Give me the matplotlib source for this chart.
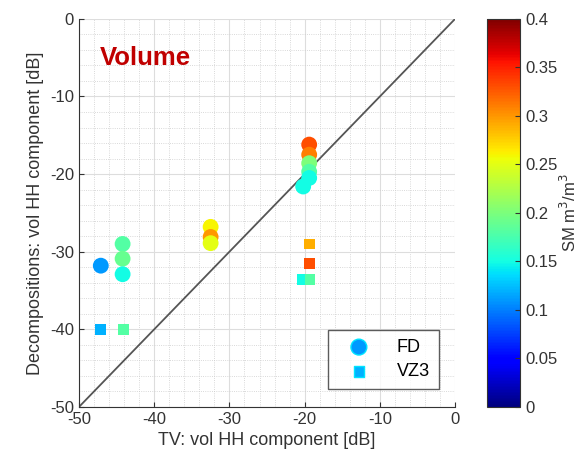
import numpy as np
import matplotlib
matplotlib.use('Agg')
import matplotlib.pyplot as plt
from matplotlib.ticker import MultipleLocator

plt.rcParams['font.family'] = ['Liberation Sans', 'DejaVu Sans']
plt.rcParams['axes.unicode_minus'] = False

# FD decomposition (circles)
fd_tv = [-47.1, -44.2, -44.2, -44.2, -32.5, -32.5, -32.5,
         -19.4, -19.4, -19.4, -19.4, -19.4, -20.2]
fd_dec = [-31.8, -29.0, -30.9, -32.9, -26.8, -28.1, -28.9,
          -16.2, -17.5, -18.6, -19.7, -20.5, -21.6]
fd_sm = [0.11, 0.18, 0.19, 0.15, 0.26, 0.30, 0.25,
         0.33, 0.31, 0.20, 0.18, 0.15, 0.15]

# VZ3 decomposition (squares)
vz_tv = [-47.1, -44.1, -19.4, -19.4, -20.3, -19.3]
vz_dec = [-40.0, -40.0, -29.0, -31.5, -33.6, -33.6]
vz_sm = [0.12, 0.18, 0.29, 0.33, 0.15, 0.18]

fig = plt.figure(figsize=(5.85, 4.71), dpi=100)
ax = fig.add_axes([0.135, 0.136, 0.643, 0.824])
cax = fig.add_axes([0.833, 0.136, 0.056, 0.824])

ax.plot([-50, 0], [-50, 0], color='#555555', lw=1.3, zorder=1)
sc = ax.scatter(fd_tv, fd_dec, c=fd_sm, cmap='jet', vmin=0, vmax=0.4,
                s=130, marker='o', edgecolors='none', label='FD', zorder=3)
ax.scatter(vz_tv, vz_dec, c=vz_sm, cmap='jet', vmin=0, vmax=0.4,
           s=60, marker='s', edgecolors='none', label='VZ3', zorder=3)

ax.set_xlim(-50, 0)
ax.set_ylim(-50, 0)
ax.xaxis.set_major_locator(MultipleLocator(10))
ax.yaxis.set_major_locator(MultipleLocator(10))
ax.xaxis.set_minor_locator(MultipleLocator(2))
ax.yaxis.set_minor_locator(MultipleLocator(2))
ax.grid(which='major', color='#dddddd', lw=0.8)
ax.grid(which='minor', color='#cccccc', lw=0.6, ls=':')
ax.set_axisbelow(True)
ax.tick_params(which='both', direction='in', labelsize=12, colors='#333333',
               labelcolor='#333333')
ax.tick_params(which='minor', length=0)
for sp in ['top', 'right']:
    ax.spines[sp].set_visible(False)
for sp in ['left', 'bottom']:
    ax.spines[sp].set_color('#333333')

ax.set_xlabel('TV: vol HH component [dB]', fontsize=13, color='#333333')
ax.set_ylabel('Decompositions: vol HH component [dB]', fontsize=13, color='#333333')
ax.text(-47.2, -5, 'Volume', color='#c00000', fontsize=18.5, fontweight='bold',
        va='center', ha='left')

leg = ax.legend(loc='lower right', fontsize=13, frameon=True, fancybox=False,
                edgecolor='#333333', borderpad=0.5, labelspacing=0.4,
                handlelength=2.4, handletextpad=0.9, borderaxespad=0,
                bbox_to_anchor=(0.957, 0.046))
leg.get_frame().set_linewidth(1.0)
for h in leg.legend_handles:
    h.set_color('#00e5ff')

cb = fig.colorbar(sc, cax=cax)
cb.set_ticks(np.arange(0, 0.41, 0.05))
cb.set_ticklabels(['0', '0.05', '0.1', '0.15', '0.2', '0.25', '0.3', '0.35', '0.4'])
cb.ax.tick_params(labelsize=12, direction='in', colors='#333333')
cb.outline.set_edgecolor('#333333')
cb.set_label('SM m$^3$/m$^3$', fontsize=12, color='#333333', labelpad=1)

fig.savefig('out.png', dpi=100)
